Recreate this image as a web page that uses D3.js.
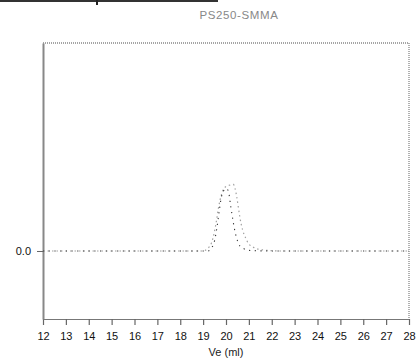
<!DOCTYPE html>
<html>
<head>
<meta charset="utf-8">
<script src="https://cdn.jsdelivr.net/npm/d3@7"></script>
<style>
  html, body { margin: 0; padding: 0; background: #fff; }
  svg { display: block; }
  text { font-family: "Liberation Sans", Arial, sans-serif; }
</style>
</head>
<body>
<svg id="chart" width="416" height="360"></svg>
<script>
// Elution volume ticks (ml)
const xTicks = d3.range(12, 29);
const yTicks = [0];

// Trace A: broader peak (lighter grey)
const traceAVe  = [12, 16, 19.0, 19.17, 19.37, 19.49, 19.59, 19.66, 19.74, 19.86, 20.0, 20.17, 20.32, 20.47, 20.54, 20.61, 20.73, 20.86, 20.97, 21.27, 21.62, 22.36, 25, 28];
const traceAVal = [0, 0, 0, 0.01, 0.04, 0.09, 0.15, 0.20, 0.245, 0.29, 0.31, 0.317, 0.32, 0.26, 0.21, 0.16, 0.10, 0.063, 0.038, 0.014, 0.005, 0, 0, 0];

// Trace B: narrower peak (darker grey)
const traceBVe  = [12, 16, 19.2, 19.4, 19.5, 19.6, 19.7, 19.8, 19.9, 20.0, 20.1, 20.2, 20.3, 20.4, 20.5, 20.6, 20.8, 21.0, 22, 25, 28];
const traceBVal = [0, 0, 0, 0.02, 0.05, 0.11, 0.19, 0.26, 0.29, 0.30, 0.29, 0.22, 0.15, 0.09, 0.05, 0.025, 0.01, 0.003, 0, 0, 0];

const svg = d3.select("#chart");
const m = { left: 43, right: 409, top: 43, bottom: 319 };

const x = d3.scaleLinear().domain([12, 28]).range([m.left, m.right]);
const y = d3.scaleLinear().domain([-0.327, 1.0]).range([m.bottom, m.top]);

// Clipped caption remnant at the very top
svg.append("rect").attr("x", 0).attr("y", 0).attr("width", 218).attr("height", 2).attr("fill", "#333");
svg.append("rect").attr("x", 96).attr("y", 0).attr("width", 2).attr("height", 5).attr("fill", "#222");

// Title
svg.append("text")
  .attr("x", 239).attr("y", 19)
  .attr("text-anchor", "middle")
  .attr("font-size", 11.5)
  .attr("fill", "#888")
  .attr("letter-spacing", 0.6)
  .text("PS250-SMMA");

// Frame: top and right edges dotted
svg.append("path")
  .attr("d", `M${m.left},${m.top}H${m.right}V${m.bottom}`)
  .attr("fill", "none")
  .attr("stroke", "#888")
  .attr("stroke-width", 1.3)
  .attr("stroke-dasharray", "1,1");

// Bottom axis
const xAxis = svg.append("g")
  .attr("transform", `translate(0,${m.bottom})`)
  .call(d3.axisBottom(x).tickValues(xTicks).tickFormat(d3.format("d"))
    .tickSizeInner(6).tickSizeOuter(0).tickPadding(7));
xAxis.select(".domain").attr("stroke", "#777").attr("stroke-width", 1.2);
xAxis.selectAll(".tick line").attr("stroke", "#666").attr("stroke-width", 1.2);
xAxis.selectAll(".tick text").attr("font-size", 11).attr("fill", "#111")
  .attr("font-family", "Liberation Sans, Arial, sans-serif");

// Left axis
const yAxis = svg.append("g")
  .attr("transform", `translate(${m.left},0)`)
  .call(d3.axisLeft(y).tickValues(yTicks).tickFormat(d3.format(".1f"))
    .tickSizeInner(6).tickSizeOuter(0).tickPadding(6));
yAxis.select(".domain").attr("stroke", "#888").attr("stroke-width", 2);
yAxis.selectAll(".tick line").attr("stroke", "#666").attr("stroke-width", 1);
yAxis.selectAll(".tick text").attr("font-size", 11).attr("fill", "#111")
  .attr("font-family", "Liberation Sans, Arial, sans-serif");

// X axis title
svg.append("text")
  .attr("x", 226).attr("y", 356)
  .attr("text-anchor", "middle")
  .attr("font-size", 11)
  .attr("fill", "#222")
  .text("Ve (ml)");

// Traces
const line = d3.line().x(d => x(d[0])).y(d => y(d[1])).curve(d3.curveMonotoneX);

svg.append("path")
  .datum(d3.zip(traceAVe, traceAVal))
  .attr("d", line)
  .attr("fill", "none")
  .attr("stroke", "#a0a0a0")
  .attr("stroke-width", 1.2)
  .attr("stroke-dasharray", "1.5,3");

svg.append("path")
  .datum(d3.zip(traceBVe, traceBVal))
  .attr("d", line)
  .attr("fill", "none")
  .attr("stroke", "#333")
  .attr("stroke-width", 1.1)
  .attr("stroke-dasharray", "1.2,4.5");
</script>
</body>
</html>
